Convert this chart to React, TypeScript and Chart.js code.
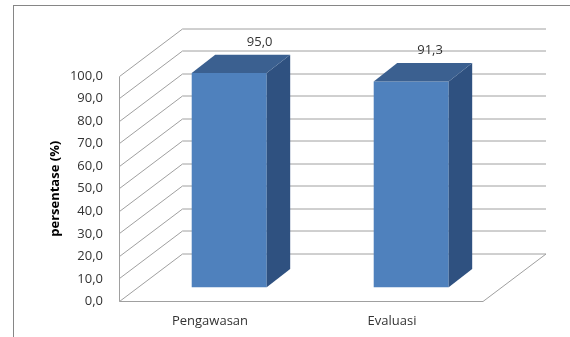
import { useEffect, useRef } from "react";
import { Chart, registerables } from "chart.js";

Chart.register(...registerables);

// Data
const categories = ["Pengawasan", "Evaluasi"];
const persentase = [95.0, 91.3];
const yMin = 0;
const yMax = 100;
const yStep = 10;
const yTitle = "persentase (%)";

// Styling
const FONT = "'Open Sans', 'Noto Sans', sans-serif";
const TEXT = "#333333";
const GRID = "#a0a0a0";
const FRONT = "#4f81bd";
const TOP = "#3b6090";
const SIDE = "#2f5180";

// Pseudo-3D geometry (pixels)
const WALL = { dx: 63, dy: -47.5 }; // depth of the walls / floor
const BAR_SHIFT = { dx: 19.2, dy: -14.2 }; // bars sit inside the box
const BAR_DEPTH = { dx: 23.5, dy: -18.3 }; // thickness of each bar
const LABEL_SHIFT = { dx: 25.9, dy: -12.5 };
const LABEL_SKEW = 0.064; // labels drift slightly toward the middle of the plot

const fmt = (v: number) => v.toFixed(1).replace(".", ",");

const depthPlugin = {
  id: "depth3d",
  beforeDraw(chart: any) {
    const { ctx, width, height } = chart;
    ctx.save();
    ctx.fillStyle = "#ffffff";
    ctx.fillRect(0, 0, width, height);
    ctx.strokeStyle = "#868686";
    ctx.lineWidth = 1;
    ctx.strokeRect(13.5, 5.5, width + 20, height + 20);
    ctx.restore();
  },
  beforeDatasetsDraw(chart: any) {
    const { ctx, chartArea: a, scales } = chart;
    const y = scales.y;
    ctx.save();
    ctx.strokeStyle = GRID;
    ctx.lineWidth = 1;
    // back wall grid lines joined to the front axis by the side wall
    for (let v = yMin; v <= yMax + 1e-9; v += yStep) {
      const py = Math.floor(y.getPixelForValue(v)) + 0.5;
      ctx.beginPath();
      ctx.moveTo(a.left + 0.5, py);
      ctx.lineTo(a.left + WALL.dx + 0.5, py + WALL.dy);
      ctx.lineTo(a.right + WALL.dx, py + WALL.dy);
      ctx.stroke();
    }
    // front axis, floor front edge and floor right edge
    const top = Math.floor(y.getPixelForValue(yMax)) + 0.5;
    const base = Math.floor(y.getPixelForValue(yMin)) + 0.5;
    ctx.beginPath();
    ctx.moveTo(a.left + 0.5, top);
    ctx.lineTo(a.left + 0.5, base);
    ctx.lineTo(a.right, base);
    ctx.lineTo(a.right + WALL.dx, base + WALL.dy);
    ctx.stroke();
    ctx.restore();

    ctx.save();
    ctx.translate(BAR_SHIFT.dx, BAR_SHIFT.dy);
  },
  afterDatasetsDraw(chart: any) {
    const { ctx, chartArea: a } = chart;
    ctx.restore();

    const midX = (a.left + a.right) / 2;
    const meta = chart.getDatasetMeta(0);
    ctx.save();
    meta.data.forEach((el: any, i: number) => {
      const { x, y, base, width } = el.getProps(["x", "y", "base", "width"], true);
      const x1 = x - width / 2 + BAR_SHIFT.dx;
      const x2 = x + width / 2 + BAR_SHIFT.dx;
      const yt = y + BAR_SHIFT.dy;
      const yb = base + BAR_SHIFT.dy;
      // right side face
      ctx.fillStyle = SIDE;
      ctx.beginPath();
      ctx.moveTo(x2, yt);
      ctx.lineTo(x2 + BAR_DEPTH.dx, yt + BAR_DEPTH.dy);
      ctx.lineTo(x2 + BAR_DEPTH.dx, yb + BAR_DEPTH.dy);
      ctx.lineTo(x2, yb);
      ctx.closePath();
      ctx.fill();
      // top face
      ctx.fillStyle = TOP;
      ctx.beginPath();
      ctx.moveTo(x1, yt);
      ctx.lineTo(x1 + BAR_DEPTH.dx, yt + BAR_DEPTH.dy);
      ctx.lineTo(x2 + BAR_DEPTH.dx, yt + BAR_DEPTH.dy);
      ctx.lineTo(x2, yt);
      ctx.closePath();
      ctx.fill();
      // value label
      const fx = x + BAR_SHIFT.dx;
      ctx.fillStyle = TEXT;
      ctx.font = `13px ${FONT}`;
      ctx.textAlign = "center";
      ctx.textBaseline = "middle";
      ctx.fillText(
        fmt(persentase[i]),
        fx + LABEL_SHIFT.dx - (fx - midX) * LABEL_SKEW,
        yt + BAR_DEPTH.dy + LABEL_SHIFT.dy
      );
    });
    ctx.restore();
  },
};

export default function App() {
  const ref = useRef<HTMLCanvasElement>(null);

  useEffect(() => {
    const chart = new Chart(ref.current!, {
      type: "bar",
      data: {
        labels: categories,
        datasets: [
          {
            data: persentase,
            backgroundColor: FRONT,
            borderWidth: 0,
            barPercentage: 0.412,
            categoryPercentage: 1,
            clip: false as any,
          },
        ],
      },
      options: {
        responsive: false,
        animation: false,
        devicePixelRatio: 1,
        layout: { padding: { left: 0, top: 76, right: 87, bottom: 0 } },
        plugins: {
          legend: { display: false },
          tooltip: { enabled: false },
        },
        scales: {
          x: {
            grid: { display: false, drawTicks: false },
            border: { display: false },
            ticks: { padding: 12, color: TEXT, font: { family: FONT, size: 13 } },
            afterFit: (s: any) => {
              s.height = 35.5;
            },
          },
          y: {
            min: yMin,
            max: yMax,
            grid: { display: false, drawTicks: false },
            border: { display: false },
            ticks: {
              stepSize: yStep,
              padding: 16,
              color: TEXT,
              font: { family: FONT, size: 13 },
              callback: (v: any) => fmt(Number(v)),
            },
            title: {
              display: true,
              text: yTitle,
              color: "#000000",
              font: { family: FONT, size: 13, weight: "bold" },
              padding: { top: 47, bottom: 0 },
            },
            afterFit: (s: any) => {
              s.width = 119;
            },
          },
        },
      },
      plugins: [depthPlugin],
    });
    return () => chart.destroy();
  }, []);

  return (
    <div style={{ position: "fixed", left: 0, top: 0, width: 570, height: 337, background: "#ffffff" }}>
      <canvas ref={ref} width={570} height={337} style={{ display: "block" }} />
    </div>
  );
}
